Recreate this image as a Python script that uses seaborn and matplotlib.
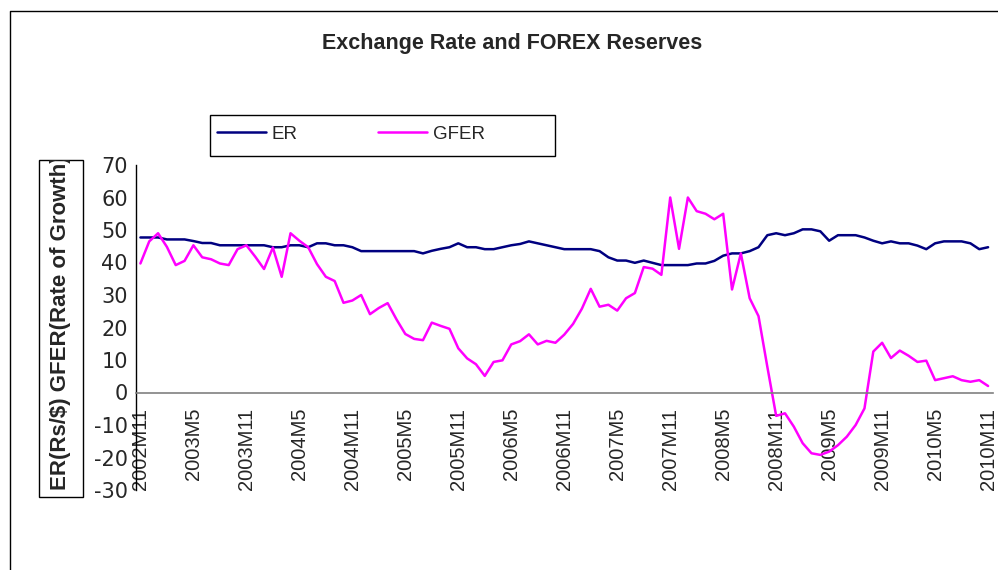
import matplotlib
matplotlib.use("Agg")
import matplotlib.pyplot as plt
import numpy as np
import pandas as pd
import seaborn as sns
from matplotlib.patches import Rectangle
from matplotlib.lines import Line2D

# ---------------- data ----------------
months = [f"{2002 + (10 + k) // 12}M{(10 + k) % 12 + 1}" for k in range(97)]

tick_labels = ["2002M11", "2003M5", "2003M11", "2004M5", "2004M11", "2005M5",
               "2005M11", "2006M5", "2006M11", "2007M5", "2007M11", "2008M5",
               "2008M11", "2009M5", "2009M11", "2010M5", "2010M11"]

er = [47.7, 47.7, 47.7, 47.1, 47.1, 47.1, 46.6, 46.0, 46.0, 45.3,
      45.3, 45.3, 45.3, 45.3, 45.3, 44.7, 44.7, 45.3, 45.3, 44.7,
      45.9, 45.9, 45.3, 45.3, 44.7, 43.5, 43.5, 43.5, 43.5, 43.5,
      43.5, 43.5, 42.8, 43.6, 44.2, 44.7, 45.9, 44.7, 44.7, 44.1,
      44.1, 44.7, 45.3, 45.7, 46.5, 45.9, 45.3, 44.7, 44.1, 44.1,
      44.1, 44.1, 43.5, 41.6, 40.6, 40.6, 39.9, 40.6, 39.9, 39.2,
      39.2, 39.2, 39.2, 39.7, 39.7, 40.5, 42.1, 42.8, 42.8, 43.5,
      44.7, 48.4, 49.0, 48.4, 49.0, 50.2, 50.2, 49.6, 46.7, 48.4,
      48.4, 48.4, 47.7, 46.7, 45.9, 46.5, 45.9, 45.9, 45.2, 44.1,
      45.9, 46.5, 46.5, 46.5, 45.9, 44.1, 44.7]

gfer = [39.7, 46.5, 49.0, 44.8, 39.2, 40.5, 45.3, 41.6, 41.0, 39.7,
        39.2, 44.1, 45.3, 41.8, 38.0, 44.6, 35.6, 49.0, 46.7, 44.7,
        39.5, 35.6, 34.3, 27.6, 28.3, 30.0, 24.1, 26.0, 27.5, 22.5,
        18.0, 16.5, 16.1, 21.5, 20.5, 19.6, 13.6, 10.5, 8.7, 5.1,
        9.4, 9.9, 14.8, 15.8, 17.9, 14.8, 15.9, 15.3, 17.8, 21.1,
        25.8, 31.9, 26.4, 27.0, 25.2, 29.0, 30.6, 38.6, 38.1, 36.2,
        60.0, 44.2, 60.0, 55.8, 55.0, 53.3, 55.0, 31.7, 42.8, 29.0,
        23.5, 7.9, -7.2, -6.4, -10.5, -15.6, -18.7, -19.2, -18.2, -16.2,
        -13.6, -10.0, -4.9, 12.6, 15.3, 10.6, 12.9, 11.3, 9.4, 9.8,
        3.8, 4.4, 5.0, 3.8, 3.3, 3.8, 2.0]

series_names = ["ER", "GFER"]
colors = {"ER": "#000080", "GFER": "#FF00FF"}

df = pd.DataFrame({
    "pos": list(range(len(months))) * 2,
    "month": months * 2,
    "value": er + gfer,
    "series": ["ER"] * len(er) + ["GFER"] * len(gfer),
})

# ---------------- style ----------------
sns.set_style("white")
plt.rcParams["font.family"] = ["Liberation Sans", "DejaVu Sans"]
plt.rcParams["axes.unicode_minus"] = False

W, H = 998, 570
fig = plt.figure(figsize=(W / 100, H / 100), dpi=100)
ax = fig.add_axes([136 / W, 1 - 490 / H, (992.5 - 136) / W, (490 - 165) / H])

sns.lineplot(data=df, x="pos", y="value", hue="series", palette=colors,
             linewidth=1.8, ax=ax, sort=False)

handles, labels = ax.get_legend_handles_labels()
ax.get_legend().remove()

ax.set_xlim(-0.5, len(months) - 0.5)
ax.set_ylim(-30, 70)
ax.set_yticks(np.arange(-30, 71, 10))
ax.set_xlabel("")
ax.set_ylabel("")

for s in ["top", "right"]:
    ax.spines[s].set_visible(False)
ax.spines["left"].set_color("black")
ax.spines["left"].set_linewidth(1.0)
ax.spines["bottom"].set_position(("data", 0))
ax.spines["bottom"].set_color("#808080")
ax.spines["bottom"].set_linewidth(1.2)

major_pos = [months.index(t) for t in tick_labels]
ax.set_xticks(major_pos)
ax.set_xticklabels(tick_labels, rotation=90, fontsize=14.5)
ax.set_xticks(np.arange(-0.5, len(months), 1), minor=True)
ax.tick_params(axis="x", which="major", length=0, pad=11)
ax.tick_params(axis="x", which="minor", length=3.2, width=0.8,
               color="black", direction="out")
ax.tick_params(axis="y", which="major", length=3.3, width=0.8,
               color="black", direction="out", pad=2.5, labelsize=15)
for lab in ax.get_yticklabels():
    lab.set_family(["DejaVu Sans"])

# ---------------- title ----------------
fig.text(512 / W, 1 - 43 / H, "Exchange Rate and FOREX Reserves",
         ha="center", va="center", fontsize=15.5, fontweight="bold")

# ---------------- legend ----------------
fig.legend(handles, labels, loc="center left",
           bbox_to_anchor=(217 / W, 1 - 134 / H), ncol=2, frameon=False,
           fontsize=13.5, handlelength=2.6, handletextpad=0.32,
           columnspacing=4.3, borderpad=0, borderaxespad=0)
fig.patches.append(Rectangle((210 / W, 1 - 156 / H), 345 / W, 41 / H,
                             transform=fig.transFigure, fill=False,
                             edgecolor="black", linewidth=1.0))

# ---------------- y label in box (clipped) ----------------
ybox = Rectangle((39 / W, 1 - 497 / H), 44 / W, 337 / H,
                 transform=fig.transFigure, fill=False,
                 edgecolor="black", linewidth=1.0)
fig.patches.append(ybox)
yt = fig.text(61 / W, 1 - 490 / H, "ER(Rs/$) GFER(Rate of Growth)",
              rotation=90, ha="center", va="bottom", fontsize=16,
              fontweight="bold")
yt.set_clip_path(ybox)

# ---------------- outer chart border ----------------
fig.lines.append(Line2D([9.5 / W, 9.5 / W, 1.0], [0.0, 1 - 11 / H, 1 - 11 / H],
                        transform=fig.transFigure, color="black",
                        linewidth=1.0))

fig.savefig("out.png", dpi=100)
